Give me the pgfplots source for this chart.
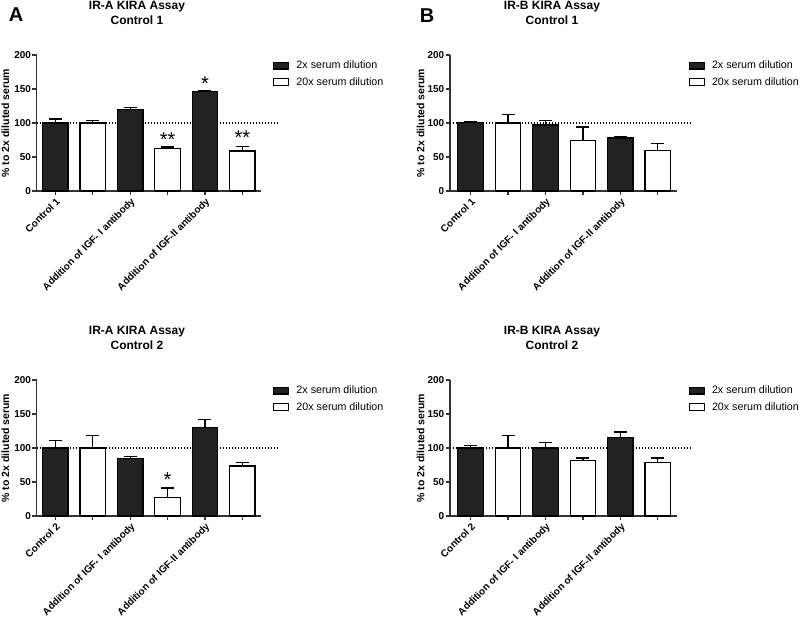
\documentclass[border=0pt]{standalone}
\usepackage{pgfplots}
\pgfplotsset{compat=1.18}
\usepackage{fontspec}
\setmainfont{Liberation Sans}
\definecolor{barfill}{HTML}{222222}
\definecolor{axgray}{HTML}{333333}
\pgfplotsset{
  panel/.style={
    scale only axis, height=136pt, anchor=south west,
    ymin=0, ymax=200,
    axis lines*=left,
    axis line style={draw=axgray, line width=1.3pt},
    every tick/.style={draw=axgray, line width=1.2pt},
    tick align=outside, major tick length=4.5pt,
    ytick={0,50,100,150,200}, yticklabels={0,50,100,150,200},
    xtick={0,1,2,3,4,5},
    yticklabel style={font=\bfseries\fontsize{10}{12}\selectfont, inner sep=1pt},
    xticklabel style={font=\bfseries\fontsize{10}{12}\selectfont, rotate=45, anchor=north east, inner sep=1pt},
    ylabel={\% to 2x diluted serum},
    clip=false,
    legend style={at={(axis description cs:1,1)}, anchor=north west, xshift=12pt, yshift=-4pt,
      draw=none, fill=none, inner sep=0pt, row sep=3pt,
      font=\fontsize{10.7}{12}\selectfont,
      nodes={font=\fontsize{10.7}{12}\selectfont},
      /tikz/every odd column/.append style={column sep=5pt}},
    legend cell align=left,
    legend image code/.code={\draw[##1,/tikz/.cd,line width=1.3pt] (0pt,-3.3pt) rectangle (15pt,3.3pt);},
    /pgf/number format/assume math mode=true,
  },
  panelA/.style={panel, width=224.3pt, xmin=-0.5, xmax=5.5,
    ylabel style={font=\bfseries\fontsize{10.5}{12}\selectfont, at={(axis description cs:-0.14,0.5)}, anchor=center}},
  panelB/.style={panel, width=226.5pt, xmin=-0.55, xmax=5.5,
    ylabel style={font=\bfseries\fontsize{10.5}{12}\selectfont, at={(axis description cs:-0.13,0.5)}, anchor=center}},
  refline/.style={black, line width=1.3pt, dash pattern=on 1.3pt off 1.7pt, forget plot},
  darkbar/.style={ybar, bar shift=0pt, bar width=25.5pt, fill=barfill, draw=black, line width=1.3pt,
    error bars/.cd, y dir=plus, y explicit, error bar style={line width=1.3pt, black},
    error mark options={rotate=90, mark size=6.5pt, line width=1.3pt, black}},
  whitebar/.style={ybar, bar shift=0pt, bar width=25.5pt, fill=white, draw=black, line width=1.3pt,
    error bars/.cd, y dir=plus, y explicit, error bar style={line width=1.3pt, black},
    error mark options={rotate=90, mark size=6.5pt, line width=1.3pt, black}},
}
\begin{document}
\begin{tikzpicture}
\useasboundingbox (0pt,0pt) rectangle (800pt,620pt);
% panel letters and titles
\node[font=\bfseries\fontsize{20}{20}\selectfont] at (16pt,605pt) {A};
\node[font=\bfseries\fontsize{20}{20}\selectfont] at (427pt,604pt) {B};
\node[font=\bfseries\fontsize{12}{15}\selectfont, align=center] at (137pt,607.5pt) {IR-A KIRA Assay\\Control 1};
\node[font=\bfseries\fontsize{12}{15}\selectfont, align=center] at (552pt,607.5pt) {IR-B KIRA Assay\\Control 1};
\node[font=\bfseries\fontsize{12}{15}\selectfont, align=center] at (137pt,282pt) {IR-A KIRA Assay\\Control 2};
\node[font=\bfseries\fontsize{12}{15}\selectfont, align=center] at (552pt,282pt) {IR-B KIRA Assay\\Control 2};

% A1
\begin{axis}[panelA, at={(36.7pt,429pt)},
  xticklabels={Control 1,,Addition of IGF- I antibody,,Addition of IGF-II antibody,}]
\addplot[refline] coordinates {(-0.5,100) (5.93,100)};
\addplot[darkbar] coordinates {(0,100) +- (0,6) (2,120) +- (0,3) (4,146) +- (0,1)};
\addplot[whitebar] coordinates {(1,100) +- (0,4) (3,62) +- (0,2.5) (5,59) +- (0,6)};
\addlegendentry{2x serum dilution}
\addlegendentry{20x serum dilution}
\node[font=\fontsize{20}{20}\selectfont, anchor=base] at (axis cs:3,66) {**};
\node[font=\fontsize{20}{20}\selectfont, anchor=base] at (axis cs:4,148) {*};
\node[font=\fontsize{20}{20}\selectfont, anchor=base] at (axis cs:5,68) {**};
\end{axis}

% B1
\begin{axis}[panelB, at={(450pt,429pt)},
  xticklabels={Control 1,,Addition of IGF- I antibody,,Addition of IGF-II antibody,}]
\addplot[refline] coordinates {(-0.55,100) (5.94,100)};
\addplot[darkbar] coordinates {(0,100.5) +- (0,1) (2,97) +- (0,7) (4,78) +- (0,1.5)};
\addplot[whitebar] coordinates {(1,100) +- (0,13) (3,74.5) +- (0,19.5) (5,60) +- (0,9.5)};
\addlegendentry{2x serum dilution}
\addlegendentry{20x serum dilution}
\end{axis}

% A2
\begin{axis}[panelA, at={(36.7pt,104pt)},
  xticklabels={Control 2,,Addition of IGF- I antibody,,Addition of IGF-II antibody,}]
\addplot[refline] coordinates {(-0.5,100) (5.93,100)};
\addplot[darkbar] coordinates {(0,100) +- (0,11) (2,85) +- (0,3) (4,130) +- (0,12)};
\addplot[whitebar] coordinates {(1,100) +- (0,18.5) (3,27.5) +- (0,13.5) (5,73.5) +- (0,5)};
\addlegendentry{2x serum dilution}
\addlegendentry{20x serum dilution}
\node[font=\fontsize{20}{20}\selectfont, anchor=base] at (axis cs:3,44) {*};
\end{axis}

% B2
\begin{axis}[panelB, at={(450pt,104pt)},
  xticklabels={Control 2,,Addition of IGF- I antibody,,Addition of IGF-II antibody,}]
\addplot[refline] coordinates {(-0.55,100) (5.94,100)};
\addplot[darkbar] coordinates {(0,100) +- (0,3.5) (2,100) +- (0,8.5) (4,115.5) +- (0,8)};
\addplot[whitebar] coordinates {(1,100) +- (0,18) (3,81.5) +- (0,4) (5,78.5) +- (0,7)};
\addlegendentry{2x serum dilution}
\addlegendentry{20x serum dilution}
\end{axis}
\end{tikzpicture}
\end{document}
